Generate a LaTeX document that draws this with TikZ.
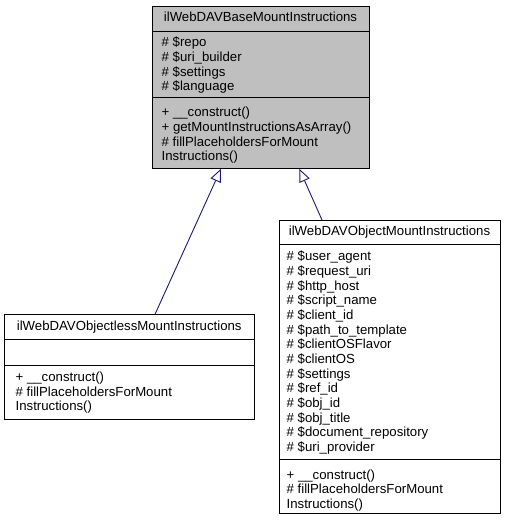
\documentclass[tikz,border=0pt]{standalone}
\usepackage{fontspec}
\setmainfont{Liberation Sans}
\usetikzlibrary{arrows.meta}
\definecolor{edgeblue}{HTML}{191970}
\definecolor{basegray}{HTML}{BFBFBF}
\begin{document}
\begin{tikzpicture}[x=1pt,y=-1pt,
  txt/.style={anchor=base west, inner sep=0pt, font=\fontsize{13.2}{14.67}\selectfont},
  ttl/.style={anchor=base, inner sep=0pt, font=\fontsize{13.2}{14.67}\selectfont},
  classbox/.style={draw=black, line width=0.9pt, inner sep=0pt, anchor=north west},
  sep/.style={draw=black, line width=0.9pt},
  inherit/.style={draw=edgeblue, line width=0.9pt, -{Triangle[length=13pt,width=11pt,fill=white]}}]
\useasboundingbox (0,0) rectangle (509,521);
% base class
\node[classbox, fill=basegray, minimum width=217pt, minimum height=162.3pt] (base) at (152.3,6) {};
\draw[sep] (152.3,31.7) -- (369.3,31.7);
\draw[sep] (152.3,97.7) -- (369.3,97.7);
\node[ttl] (baseT) at (260.5,21.5) {ilWebDAVBaseMountInstructions};
\foreach \t [count=\i] in {\# \$repo, \# \$uri\_builder, \# \$settings, \# \$language}
  \node[txt] (baseA\i) at (161.5,{46.7+14.67*(\i-1)}) {\t};
\foreach \t [count=\i] in {+ \_\_construct(), + getMountInstructionsAsArray(), \# fillPlaceholdersForMount, Instructions()}
  \node[txt] (baseM\i) at (161.5,{116.7+14.67*(\i-1)}) {\t};
% objectless class
\node[classbox, fill=white, minimum width=249.7pt, minimum height=105pt] (less) at (4.3,314.3) {};
\draw[sep] (4.3,339.3) -- (254,339.3);
\draw[sep] (4.3,365.3) -- (254,365.3);
\node[ttl] (lessT) at (129.2,330.3) {ilWebDAVObjectlessMountInstructions};
\foreach \t [count=\i] in {+ \_\_construct(), \# fillPlaceholdersForMount, Instructions()}
  \node[txt] (lessM\i) at (15.5,{381.5+14.67*(\i-1)}) {\t};
% object class
\node[classbox, fill=white, minimum width=221pt, minimum height=293.3pt] (obj) at (279,220) {};
\draw[sep] (279,244) -- (500,244);
\draw[sep] (279,459.3) -- (500,459.3);
\node[ttl] (objT) at (389.5,235) {ilWebDAVObjectMountInstructions};
\foreach \t [count=\i] in {\# \$user\_agent, \# \$request\_uri, \# \$http\_host, \# \$script\_name, \# \$client\_id, \# \$path\_to\_template, \# \$clientOSFlavor, \# \$clientOS, \# \$settings, \# \$ref\_id, \# \$obj\_id, \# \$obj\_title, \# \$document\_repository, \# \$uri\_provider}
  \node[txt] (objA\i) at (286.5,{260.7+14.67*(\i-1)}) {\t};
\foreach \t [count=\i] in {+ \_\_construct(), \# fillPlaceholdersForMount, Instructions()}
  \node[txt] (objM\i) at (286.5,{479+14.67*(\i-1)}) {\t};
% connectors
\coordinate (lessTop) at (155,314.3);
\coordinate (baseL) at (221,168.8);
\coordinate (objTop) at (322,220);
\coordinate (baseR) at (299.3,168.8);
\draw[inherit] (lessTop) -- (baseL);
\draw[inherit] (objTop) -- (baseR);
\end{tikzpicture}
\end{document}
